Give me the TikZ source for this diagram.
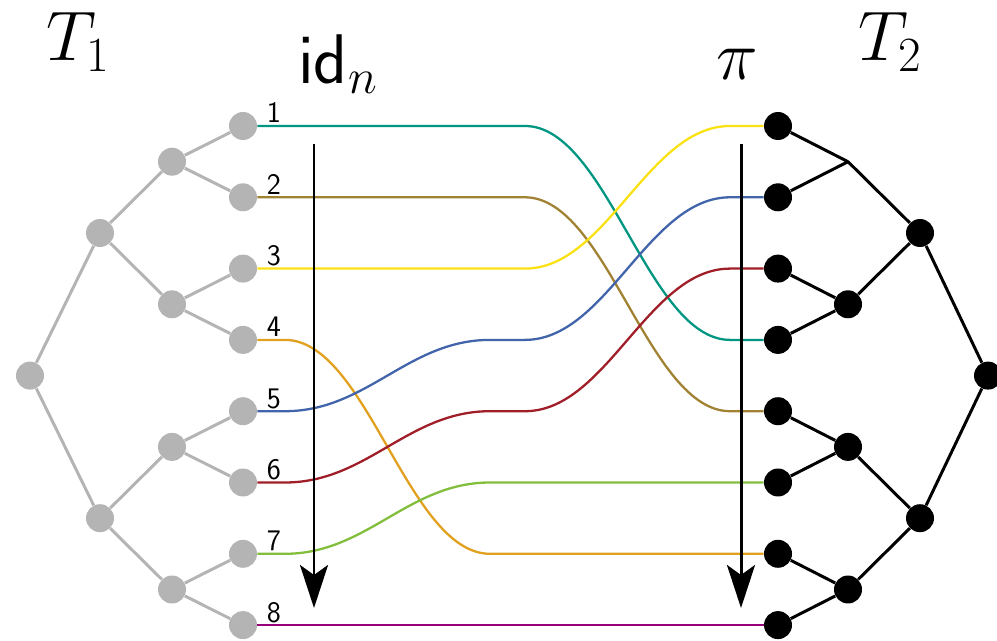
\RequirePackage{fix-cm}
\documentclass[tikz,border=0pt]{standalone}
\usepackage{tikz}
\usetikzlibrary{arrows.meta}
\definecolor{treegray}{RGB}{180,180,180}
\definecolor{cteal}{RGB}{0,150,130}
\definecolor{colive}{RGB}{160,130,50}
\definecolor{cyellow}{RGB}{250,225,20}
\definecolor{corange}{RGB}{225,160,30}
\definecolor{cblue}{RGB}{65,100,170}
\definecolor{cred}{RGB}{160,30,40}
\definecolor{cgreen}{RGB}{130,190,60}
\definecolor{cmagenta}{RGB}{150,0,120}
\begin{document}
\begin{tikzpicture}[
    x=0.02cm, y=-0.02cm,
    >={Stealth[length=0.86cm, width=0.56cm, inset=0.2cm]},
    gnode/.style={circle, fill=treegray, inner sep=0pt, minimum size=0.56cm},
    bnode/.style={circle, fill=black, inner sep=0pt, minimum size=0.56cm},
    gedge/.style={draw=treegray, line width=1.7pt},
    bedge/.style={draw=black, line width=1.7pt},
    strand/.style={line width=1.3pt},
    leaflbl/.style={font=\sffamily\fontsize{17}{17}\selectfont, anchor=base, inner sep=0pt},
    title/.style={font=\fontsize{40}{44}\selectfont},
    flow/.style={line width=1.7pt, ->}
  ]
    \useasboundingbox (0,0) rectangle (997,641);

    % Titles
    \node[title] (t1) at (78,42) {$T_1$};
    \node[title] (t2) at (890,42) {$T_2$};
    \node[title] (idn) at (338,64) {$\mathsf{id}_n$};
    \node[title] (pi) at (737,64) {$\pi$};

    % Left tree T1
    \foreach \i in {1,...,8} {
      \node[gnode] (l\i) at (243,{54.7+71.3*\i}) {};
      \node[leaflbl] (lab\i) at (274,{51.7+71.3*\i}) {\i};
    }
    \node[gnode] (lm1) at (172,161.7) {};
    \node[gnode] (lm2) at (172,304.3) {};
    \node[gnode] (lm3) at (172,446.9) {};
    \node[gnode] (lm4) at (172,589.5) {};
    \node[gnode] (lu1) at (100,233) {};
    \node[gnode] (lu2) at (100,518.2) {};
    \node[gnode] (lroot) at (30,375.6) {};
    \draw[gedge] (lroot) -- (lu1) (lroot) -- (lu2)
      (lu1) -- (lm1) (lu1) -- (lm2) (lu2) -- (lm3) (lu2) -- (lm4)
      (lm1) -- (l1) (lm1) -- (l2) (lm2) -- (l3) (lm2) -- (l4)
      (lm3) -- (l5) (lm3) -- (l6) (lm4) -- (l7) (lm4) -- (l8);

    % Right tree T2
    \foreach \i in {1,...,8} {
      \node[bnode] (r\i) at (778,{54.7+71.3*\i}) {};
    }
    \coordinate (rm1) at (848,161.7);
    \node[bnode] (rm2) at (848,304.3) {};
    \node[bnode] (rm3) at (848,446.9) {};
    \node[bnode] (rm4) at (848,589.5) {};
    \node[bnode] (ru1) at (920,233) {};
    \node[bnode] (ru2) at (920,518.2) {};
    \node[bnode] (rroot) at (988,375.6) {};
    \draw[bedge] (rroot) -- (ru1) (rroot) -- (ru2)
      (ru1) -- (rm1) (ru1) -- (rm2) (ru2) -- (rm3) (ru2) -- (rm4)
      (rm1) -- (r1) (rm1) -- (r2) (rm2) -- (r3) (rm2) -- (r4)
      (rm3) -- (r5) (rm3) -- (r6) (rm4) -- (r7) (rm4) -- (r8);

    % Strands: left leaf / middle row / right leaf / colour
    \foreach \a/\m/\b/\c in {1/1/4/cteal, 2/2/5/colive, 3/3/1/cyellow,
        4/7/7/corange, 5/4/2/cblue, 6/5/3/cred, 7/6/6/cgreen, 8/8/8/cmagenta} {
      \draw[strand, \c] (l\a.east) -- (285,{54.7+71.3*\a})
        .. controls (367,{54.7+71.3*\a}) and (408,{54.7+71.3*\m}) .. (490,{54.7+71.3*\m})
        -- (525,{54.7+71.3*\m})
        .. controls (607,{54.7+71.3*\m}) and (648,{54.7+71.3*\b}) .. (730,{54.7+71.3*\b})
        -- (r\b.west);
    }

    % Vertical arrows
    \coordinate (idtop) at (314,144);
    \coordinate (idbot) at (314,608);
    \coordinate (pitop) at (741,144);
    \coordinate (pibot) at (741,608);
    \draw[flow] (idtop) -- (idbot);
    \draw[flow] (pitop) -- (pibot);
  \end{tikzpicture}
\end{document}
